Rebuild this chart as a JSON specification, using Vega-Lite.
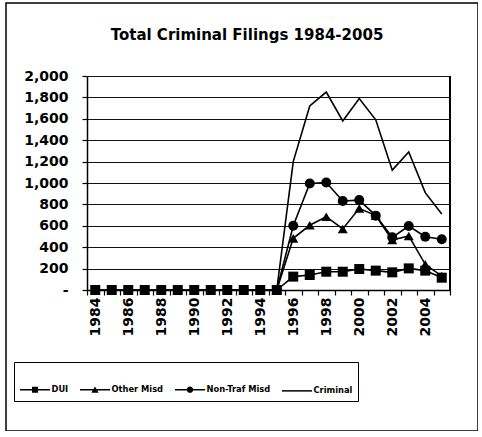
{
  "$schema": "https://vega.github.io/schema/vega-lite/v6.json",
  "width": 472,
  "height": 428,
  "autosize": "none",
  "padding": {"left": 6, "top": 3, "right": 0, "bottom": 0},
  "background": "white",
  "title": {
    "text": "Total Criminal Filings 1984-2005",
    "font": "DejaVu Sans",
    "fontSize": 15,
    "fontWeight": "bold",
    "color": "black",
    "anchor": "middle",
    "frame": "group",
    "dx": 5,
    "offset": -52,
    "baseline": "alphabetic"
  },
  "config": {
    "view": {"stroke": "black", "strokeWidth": 1.5},
    "axis": {
      "labelFont": "DejaVu Sans",
      "labelFontWeight": "bold",
      "labelFontSize": 14,
      "labelColor": "black",
      "domainColor": "black",
      "domainWidth": 1.5,
      "tickColor": "black",
      "tickWidth": 1.2,
      "tickSize": 5,
      "title": null
    }
  },
  "data": {
    "values": [
      {"year": 1984, "series": "Criminal", "value": 0},
      {"year": 1985, "series": "Criminal", "value": 0},
      {"year": 1986, "series": "Criminal", "value": 0},
      {"year": 1987, "series": "Criminal", "value": 0},
      {"year": 1988, "series": "Criminal", "value": 0},
      {"year": 1989, "series": "Criminal", "value": 0},
      {"year": 1990, "series": "Criminal", "value": 0},
      {"year": 1991, "series": "Criminal", "value": 0},
      {"year": 1992, "series": "Criminal", "value": 0},
      {"year": 1993, "series": "Criminal", "value": 0},
      {"year": 1994, "series": "Criminal", "value": 0},
      {"year": 1995, "series": "Criminal", "value": 0},
      {"year": 1996, "series": "Criminal", "value": 1200},
      {"year": 1997, "series": "Criminal", "value": 1720},
      {"year": 1998, "series": "Criminal", "value": 1850},
      {"year": 1999, "series": "Criminal", "value": 1580},
      {"year": 2000, "series": "Criminal", "value": 1790},
      {"year": 2001, "series": "Criminal", "value": 1590},
      {"year": 2002, "series": "Criminal", "value": 1120},
      {"year": 2003, "series": "Criminal", "value": 1290},
      {"year": 2004, "series": "Criminal", "value": 910},
      {"year": 2005, "series": "Criminal", "value": 710},
      {"year": 1995, "series": "Non-Traf Misd", "value": 0},
      {"year": 1996, "series": "Non-Traf Misd", "value": 600},
      {"year": 1997, "series": "Non-Traf Misd", "value": 995},
      {"year": 1998, "series": "Non-Traf Misd", "value": 1005},
      {"year": 1999, "series": "Non-Traf Misd", "value": 832},
      {"year": 2000, "series": "Non-Traf Misd", "value": 840},
      {"year": 2001, "series": "Non-Traf Misd", "value": 695},
      {"year": 2002, "series": "Non-Traf Misd", "value": 492},
      {"year": 2003, "series": "Non-Traf Misd", "value": 598},
      {"year": 2004, "series": "Non-Traf Misd", "value": 498},
      {"year": 2005, "series": "Non-Traf Misd", "value": 475},
      {"year": 1995, "series": "Other Misd", "value": 0},
      {"year": 1996, "series": "Other Misd", "value": 483},
      {"year": 1997, "series": "Other Misd", "value": 605},
      {"year": 1998, "series": "Other Misd", "value": 685},
      {"year": 1999, "series": "Other Misd", "value": 570},
      {"year": 2000, "series": "Other Misd", "value": 763},
      {"year": 2001, "series": "Other Misd", "value": 695},
      {"year": 2002, "series": "Other Misd", "value": 467},
      {"year": 2003, "series": "Other Misd", "value": 505},
      {"year": 2004, "series": "Other Misd", "value": 240},
      {"year": 2005, "series": "Other Misd", "value": 130},
      {"year": 1984, "series": "DUI", "value": 0},
      {"year": 1985, "series": "DUI", "value": 0},
      {"year": 1986, "series": "DUI", "value": 0},
      {"year": 1987, "series": "DUI", "value": 0},
      {"year": 1988, "series": "DUI", "value": 0},
      {"year": 1989, "series": "DUI", "value": 0},
      {"year": 1990, "series": "DUI", "value": 0},
      {"year": 1991, "series": "DUI", "value": 0},
      {"year": 1992, "series": "DUI", "value": 0},
      {"year": 1993, "series": "DUI", "value": 0},
      {"year": 1994, "series": "DUI", "value": 0},
      {"year": 1995, "series": "DUI", "value": 0},
      {"year": 1996, "series": "DUI", "value": 125},
      {"year": 1997, "series": "DUI", "value": 140},
      {"year": 1998, "series": "DUI", "value": 171},
      {"year": 1999, "series": "DUI", "value": 171},
      {"year": 2000, "series": "DUI", "value": 196},
      {"year": 2001, "series": "DUI", "value": 181},
      {"year": 2002, "series": "DUI", "value": 165},
      {"year": 2003, "series": "DUI", "value": 202},
      {"year": 2004, "series": "DUI", "value": 181},
      {"year": 2005, "series": "DUI", "value": 115}
    ]
  },
  "encoding": {
    "x": {
      "field": "year",
      "type": "ordinal",
      "sort": "ascending",
      "scale": {"type": "band", "range": [81, 444], "paddingInner": 0, "paddingOuter": 0},
      "axis": {
        "orient": "bottom",
        "offset": -141,
        "labelAngle": -90,
        "labelAlign": "right",
        "labelBaseline": "middle",
        "labelPadding": 2,
        "tickBand": "extent",
        "grid": false,
        "labelExpr": "datum.value % 2 == 0 ? datum.label : ''"
      }
    },
    "y": {
      "field": "value",
      "type": "quantitative",
      "scale": {"domain": [0, 2000], "range": [287, 73], "nice": false, "zero": true},
      "axis": {
        "orient": "left",
        "offset": -81,
        "values": [0, 200, 400, 600, 800, 1000, 1200, 1400, 1600, 1800, 2000],
        "labelPadding": 14,
        "grid": true,
        "gridColor": "#111",
        "gridWidth": 1,
        "labelExpr": "datum.value == 0 ? '-\u00a0\u00a0\u00a0\u00a0' : format(datum.value, ',')"
      }
    }
  },
  "resolve": {"scale": {"shape": "independent"}, "legend": {"shape": "independent"}},
  "layer": [
    {
      "mark": {"type": "line", "color": "black", "strokeWidth": 1.6},
      "encoding": {"detail": {"field": "series"}}
    },
    {
      "transform": [{"filter": "datum.series != 'Criminal'"}],
      "mark": {"type": "point", "filled": true, "color": "black", "opacity": 1, "size": 100},
      "encoding": {
        "shape": {
          "field": "series",
          "type": "nominal",
          "scale": {
            "domain": ["DUI", "Other Misd", "Non-Traf Misd"],
            "range": ["square", "triangle-up", "circle"]
          },
          "legend": null
        }
      }
    },
    {
      "mark": {"type": "point", "filled": true, "color": "black", "opacity": 0, "size": 0},
      "encoding": {
        "shape": {
          "field": "series",
          "type": "nominal",
          "scale": {
            "domain": ["DUI", "Other Misd", "Non-Traf Misd", "Criminal"],
            "range": [
              "M-0.7,-0.035H0.7V0.035H-0.7ZM-0.14,-0.14H0.14V0.14H-0.14Z",
              "M-0.7,-0.035H0.7V0.035H-0.7ZM0,-0.16L0.17,0.13H-0.17Z",
              "M-0.7,-0.035H0.7V0.035H-0.7ZM-0.15,0A0.15,0.15,0,1,1,0.15,0A0.15,0.15,0,1,1,-0.15,0Z",
              "M-0.7,-0.035H0.7V0.035H-0.7Z"
            ]
          },
          "legend": {
            "orient": "none",
            "legendX": 8,
            "legendY": 359,
            "direction": "horizontal",
            "title": null,
            "strokeColor": "black",
            "padding": 5,
            "symbolSize": 1849,
            "symbolOffset": -6.5,
            "symbolOpacity": 1,
            "symbolFillColor": "black",
            "labelOffset": -6,
            "columnPadding": 7,
            "labelFont": "DejaVu Sans",
            "labelFontWeight": "bold",
            "labelFontSize": 8.3,
            "labelColor": "black"
          }
        }
      }
    },
    {
      "mark": {"type": "rule", "color": "black", "strokeWidth": 1.5},
      "encoding": {
        "x": {"datum": 2005, "type": "ordinal", "bandPosition": 1},
        "y": {"datum": 0, "type": "quantitative"},
        "y2": {"datum": 2000}
      }
    }
  ]
}
